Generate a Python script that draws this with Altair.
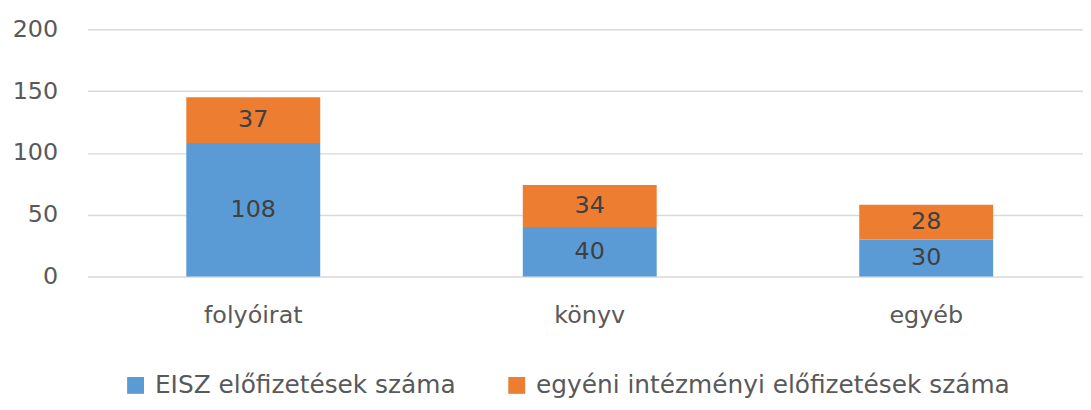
import altair as alt
import pandas as pd

categories = ["folyóirat", "könyv", "egyéb"]
series = ["EISZ előfizetések száma", "egyéni intézményi előfizetések száma"]
eisz = [108, 40, 30]
egyeni = [37, 34, 28]
colors = ["#5B9BD5", "#ED7D31"]

rows = []
for i, c in enumerate(categories):
    rows.append({"cat": c, "series": series[0], "value": eisz[i], "ord": 0})
    rows.append({"cat": c, "series": series[1], "value": egyeni[i], "ord": 1})
df = pd.DataFrame(rows)

FONT = "DejaVu Sans"
TXT = "#595959"
FS = 24

xscale = alt.Scale(domain=categories, paddingInner=0.602, paddingOuter=0.2805, align=0.524)
yscale = alt.Scale(domain=[0, 200])
xaxis = alt.Axis(labelAngle=0, labelFontSize=FS, labelColor=TXT, labelFont=FONT,
                 labelPadding=27, ticks=False, domain=False, grid=False)
yaxis = alt.Axis(values=[0, 50, 100, 150, 200], labelFontSize=FS, labelColor=TXT,
                 labelFont=FONT, labelPadding=30, ticks=False, domain=False,
                 gridColor="#D9D9D9", gridWidth=1.5)

base = alt.Chart(df).transform_stack(
    stack="value", groupby=["cat"], sort=[alt.SortField("ord", order="ascending")],
    as_=["y0", "y1"]
).transform_calculate(mid="(datum.y0 + datum.y1) / 2")

bars = base.mark_bar().encode(
    x=alt.X("cat:N", sort=categories, title=None, scale=xscale, axis=xaxis),
    y=alt.Y("y0:Q", title=None, scale=yscale, axis=yaxis),
    y2="y1:Q",
    color=alt.Color("series:N", sort=series,
                    scale=alt.Scale(domain=series, range=colors),
                    legend=alt.Legend(title=None, orient="none", direction="horizontal",
                                      legendX=36, legendY=346, symbolType="square",
                                      symbolSize=289, symbolStrokeWidth=0, labelFontSize=25,
                                      labelColor=TXT, labelFont=FONT, columnPadding=48,
                                      labelOffset=7, labelLimit=700)),
)

labels = base.mark_text(fontSize=FS, color="#404040", font=FONT).encode(
    x=alt.X("cat:N", sort=categories, scale=xscale, title=None, axis=xaxis),
    y=alt.Y("mid:Q", title=None, scale=yscale, axis=yaxis),
    text=alt.Text("value:Q"),
)

chart = alt.layer(bars, labels).properties(
    width=1003, height=249,
    background="white",
    autosize=alt.AutoSizeParams(type="none"),
    padding={"left": 80, "top": 20, "right": 0, "bottom": 125},
).configure_view(strokeWidth=0, stroke="transparent").configure_axis(
    domain=False, ticks=False
)

chart.save("out.html", embed_options={"renderer": "svg", "actions": False})
